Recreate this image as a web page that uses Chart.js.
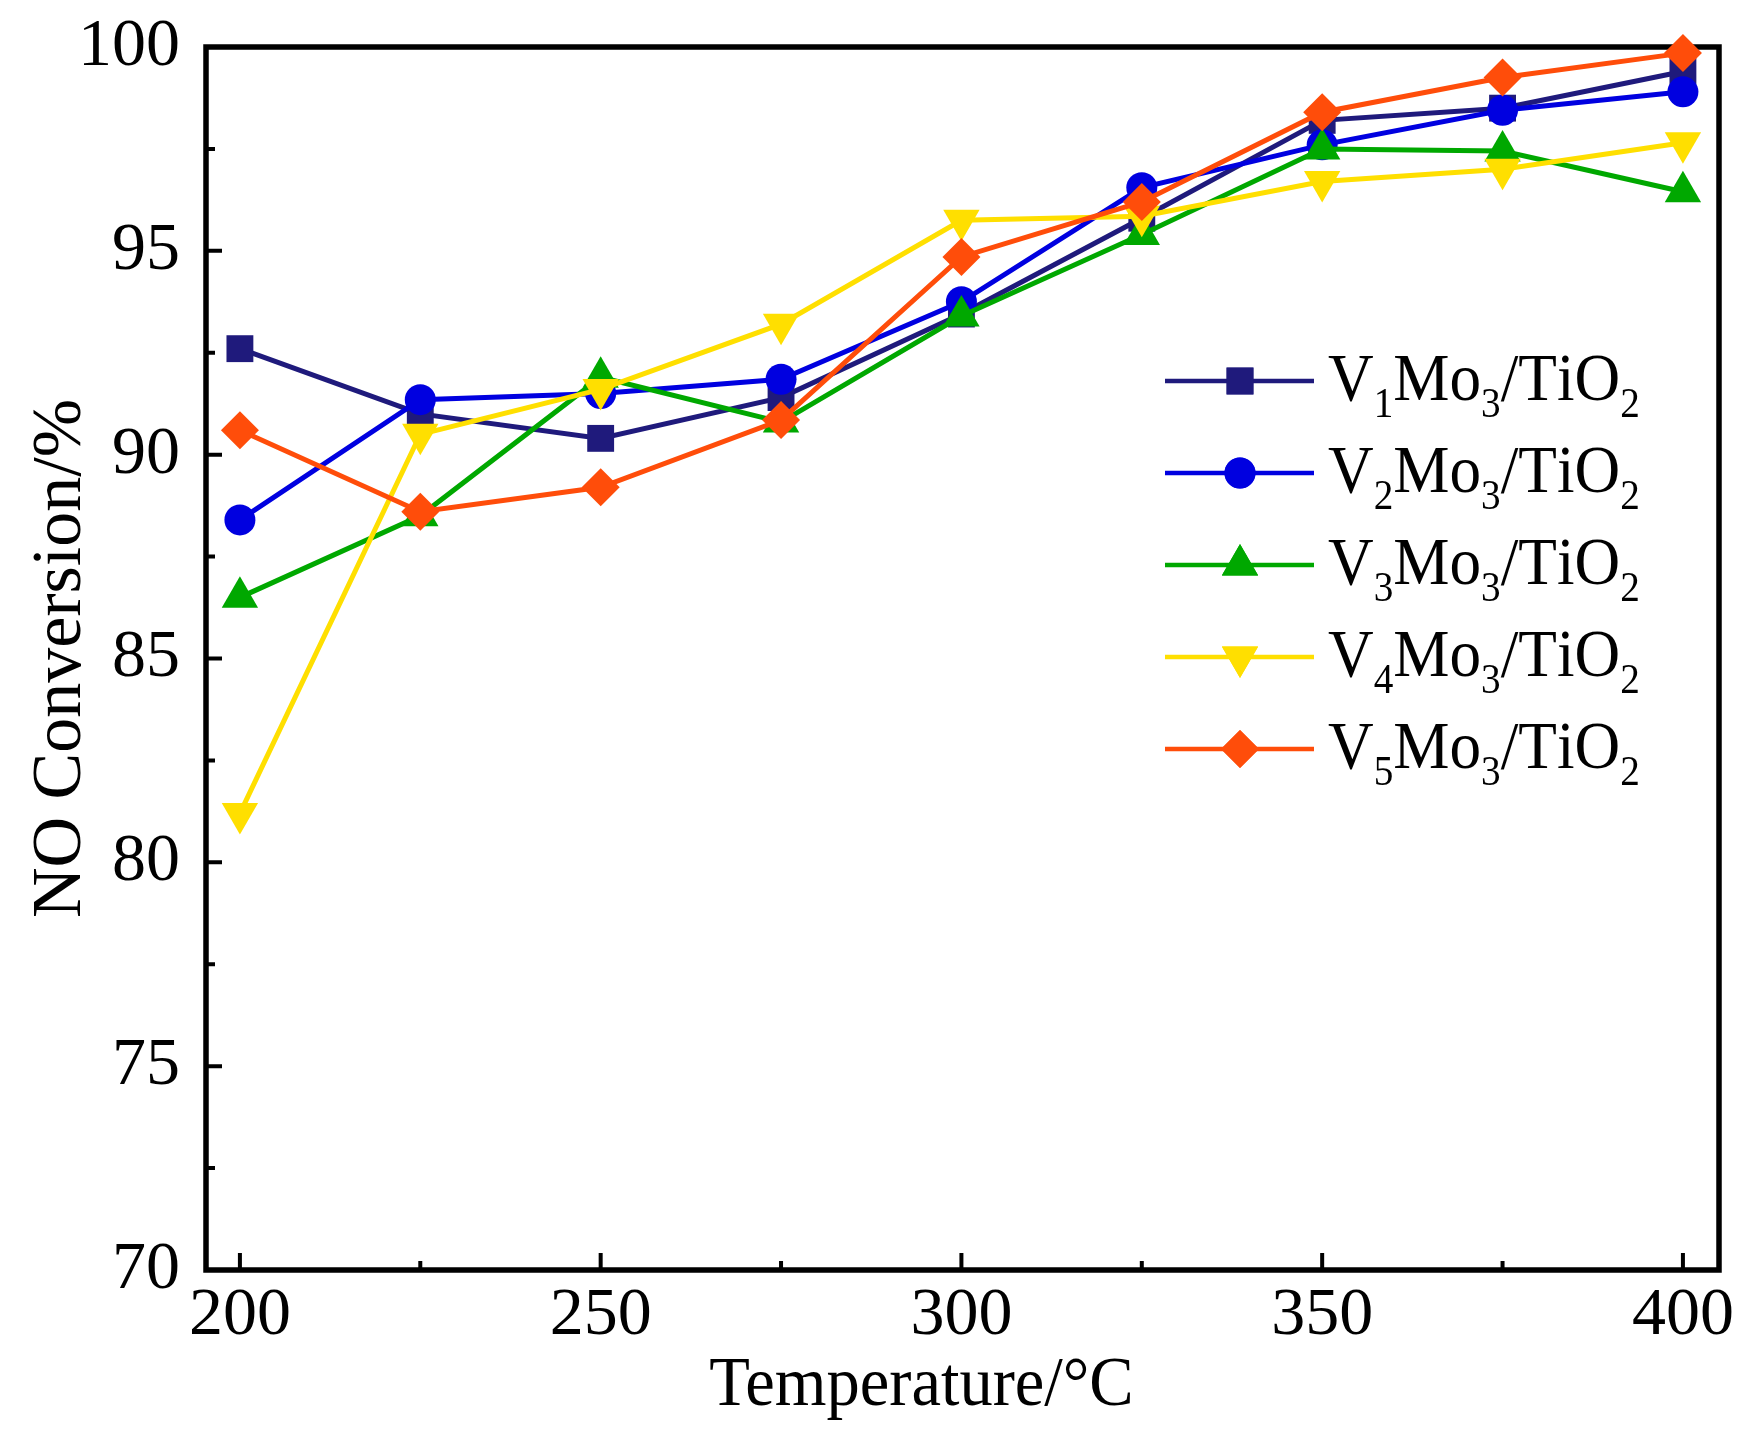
<!DOCTYPE html>
<html>
<head>
<meta charset="utf-8">
<script src="https://cdn.jsdelivr.net/npm/chart.js@4.4.0/dist/chart.umd.min.js"></script>
<style>
  html, body { margin: 0; padding: 0; background: #fff; }
  #wrap { width: 1757px; height: 1446px; }
</style>
</head>
<body>
<div id="wrap"><canvas id="conversionChart" width="1757" height="1446"></canvas></div>
<script>
const temperatures = [200, 225, 250, 275, 300, 325, 350, 375, 400];
const v1Mo3 = [92.6, 91.0, 90.4, 91.4, 93.45, 95.8, 98.2, 98.5, 99.4];
const v2Mo3 = [88.4, 91.35, 91.5, 91.85, 93.75, 96.55, 97.6, 98.45, 98.9];
const v3Mo3 = [86.5, 88.5, 91.9, 90.8, 93.4, 95.4, 97.5, 97.45, 96.45];
const v4Mo3 = [81.2, 90.5, 91.6, 93.2, 95.75, 95.85, 96.7, 97.0, 97.65];
const v5Mo3 = [90.6, 88.6, 89.2, 90.85, 94.85, 96.2, 98.4, 99.25, 99.85];
const seriesNames = ["V1Mo3/TiO2", "V2Mo3/TiO2", "V3Mo3/TiO2", "V4Mo3/TiO2", "V5Mo3/TiO2"];

const xTickValues = [200, 250, 300, 350, 400];
const xMinorTicks = [225, 275, 325, 375];
const yTickValues = [70, 75, 80, 85, 90, 95, 100];
const yMinorTicks = [72.5, 77.5, 82.5, 87.5, 92.5, 97.5];
const xTitle = "Temperature/°C";
const yTitle = "NO Conversion/%";

const serif = "'Liberation Serif', 'Times New Roman', serif";

const seriesStyles = [
  { color: "#1f1a7c", pointStyle: "rect", radius: 19, rotation: 0 },
  { color: "#0000e0", pointStyle: "circle", radius: 15.5, rotation: 0 },
  { color: "#00a800", pointStyle: "triangle", radius: 21, rotation: 0 },
  { color: "#ffdf00", pointStyle: "triangle", radius: 21, rotation: 180 },
  { color: "#ff4d0a", pointStyle: "rectRot", radius: 19, rotation: 0 }
];

function toPoints(values) {
  return values.map((value, index) => ({ x: temperatures[index], y: value }));
}

const seriesValues = [v1Mo3, v2Mo3, v3Mo3, v4Mo3, v5Mo3];

const datasets = seriesValues.map((values, index) => {
  const style = seriesStyles[index];
  return {
    label: seriesNames[index],
    data: toPoints(values),
    borderColor: style.color,
    backgroundColor: style.color,
    borderWidth: 5,
    pointStyle: style.pointStyle,
    pointRadius: style.radius,
    pointRotation: style.rotation,
    pointBorderWidth: 0,
    pointBackgroundColor: style.color,
    tension: 0,
    clip: false,
    order: seriesValues.length - index
  };
});

// digits in the names are drawn as subscripts
function drawSubscriptText(ctx, text, x, baseline, size, squeeze) {
  ctx.save();
  ctx.translate(x, baseline);
  ctx.scale(squeeze, 1);
  ctx.textAlign = "left";
  ctx.textBaseline = "alphabetic";
  let cursor = 0;
  for (const ch of text) {
    const isDigit = ch >= "0" && ch <= "9";
    ctx.font = `${isDigit ? size * 0.62 : size}px ${serif}`;
    ctx.fillText(ch, cursor, isDigit ? size * 0.25 : 0);
    cursor += ctx.measureText(ch).width;
  }
  ctx.restore();
}

const framePlugin = {
  id: "frame",
  beforeDatasetsDraw(chart) {
    const { ctx, chartArea: area, scales } = chart;
    ctx.save();
    ctx.strokeStyle = "#000";
    ctx.lineWidth = 5.5;
    ctx.strokeRect(area.left, area.top, area.right - area.left, area.bottom - area.top);

    ctx.lineWidth = 4;
    ctx.beginPath();
    xTickValues.forEach(v => {
      const px = scales.x.getPixelForValue(v);
      ctx.moveTo(px, area.bottom);
      ctx.lineTo(px, area.bottom - 17);
    });
    xMinorTicks.forEach(v => {
      const px = scales.x.getPixelForValue(v);
      ctx.moveTo(px, area.bottom);
      ctx.lineTo(px, area.bottom - 9);
    });
    yTickValues.forEach(v => {
      const py = scales.y.getPixelForValue(v);
      ctx.moveTo(area.left, py);
      ctx.lineTo(area.left + 16, py);
    });
    yMinorTicks.forEach(v => {
      const py = scales.y.getPixelForValue(v);
      ctx.moveTo(area.left, py);
      ctx.lineTo(area.left + 9, py);
    });
    ctx.stroke();

    // x axis title, set a little left of the plot centre as in the figure
    ctx.fillStyle = "#000";
    ctx.font = `70px ${serif}`;
    ctx.textAlign = "center";
    ctx.textBaseline = "alphabetic";
    ctx.save();
    ctx.translate((area.left + area.right) / 2 - 41, area.bottom + 135);
    ctx.scale(0.95, 1);
    ctx.fillText(xTitle, 0, 0);
    ctx.restore();
    ctx.restore();
  }
};

const legendPlugin = {
  id: "seriesLegend",
  afterDraw(chart) {
    const { ctx } = chart;
    const lineStart = 1165;
    const lineEnd = 1314;
    const textX = 1328;
    const firstRow = 381;
    const rowGap = 92;
    ctx.save();
    chart.data.datasets.forEach((dataset, index) => {
      const y = firstRow + index * rowGap;
      ctx.strokeStyle = dataset.borderColor;
      ctx.lineWidth = 4.5;
      ctx.beginPath();
      ctx.moveTo(lineStart, y);
      ctx.lineTo(lineEnd, y);
      ctx.stroke();
      ctx.fillStyle = dataset.pointBackgroundColor;
      Chart.helpers.drawPoint(ctx, {
        pointStyle: dataset.pointStyle,
        rotation: dataset.pointRotation,
        radius: dataset.pointRadius,
        borderWidth: 0
      }, 1240, y);
      ctx.fill();
      ctx.fillStyle = "#000";
      drawSubscriptText(ctx, dataset.label, textX, y + 19, 68, 0.93);
    });
    ctx.restore();
  }
};

Chart.defaults.font.family = serif;
Chart.defaults.color = "#000";

new Chart(document.getElementById("conversionChart").getContext("2d"), {
  type: "line",
  data: { datasets },
  options: {
    responsive: false,
    animation: false,
    devicePixelRatio: 1,
    layout: { padding: { top: 47, right: 38, left: 0, bottom: 0 } },
    plugins: {
      legend: { display: false },
      tooltip: { enabled: false }
    },
    scales: {
      x: {
        type: "linear",
        min: 195.3,
        max: 405,
        grid: { display: false, drawTicks: false },
        border: { display: false },
        afterBuildTicks: scale => { scale.ticks = xTickValues.map(value => ({ value })); },
        afterFit: scale => {
          scale.height = 176;
          scale.paddingLeft = 0;
          scale.paddingRight = 0;
        },
        ticks: {
          font: { size: 68 },
          padding: 5,
          maxRotation: 0,
          autoSkip: false
        },
        title: { display: false }
      },
      y: {
        min: 70,
        max: 100,
        grid: { display: false, drawTicks: false },
        border: { display: false },
        afterBuildTicks: scale => { scale.ticks = yTickValues.map(value => ({ value })); },
        afterFit: scale => {
          scale.width = 206;
          scale.paddingTop = 0;
          scale.paddingBottom = 0;
        },
        ticks: {
          font: { size: 68 },
          padding: 26,
          autoSkip: false
        },
        title: {
          display: true,
          text: yTitle,
          font: { size: 70 },
          padding: { top: 20, bottom: 0 }
        }
      }
    }
  },
  plugins: [framePlugin, legendPlugin]
});
</script>
</body>
</html>
